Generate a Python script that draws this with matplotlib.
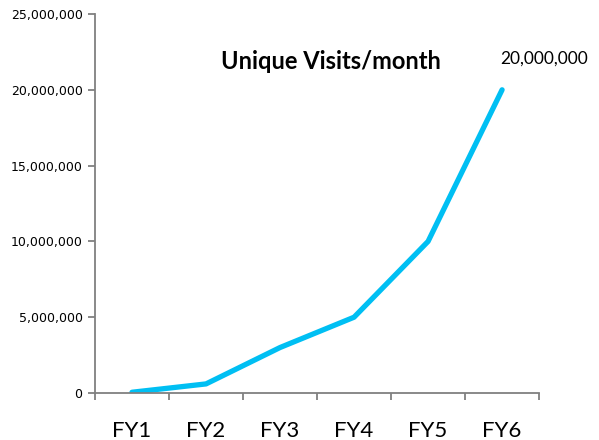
import matplotlib.pyplot as plt
from matplotlib.ticker import FuncFormatter

# Данные графика
years = ["FY1", "FY2", "FY3", "FY4", "FY5", "FY6"]
visits = [50000, 600000, 3000000, 5000000, 10000000, 20000000]

fig = plt.figure(figsize=(5.99, 4.40), dpi=100)
ax = fig.add_axes([0.1586, 0.1068, 0.7414, 0.8614])

x = list(range(len(years)))
ax.plot(x, visits, color="#00BFF3", linewidth=3.8, solid_capstyle="round")

# Подпись последней точки
ax.annotate(f"{visits[-1]:,}", (x[-1], visits[-1]), xytext=(-1, 17),
            textcoords="offset points", ha="left", va="bottom",
            fontsize=12.5, family="Lato")

ax.text(0.532, 0.875, "Unique Visits/month", transform=ax.transAxes,
        ha="center", va="center", fontsize=17, fontweight="bold", family="Lato")

# Оси
ax.set_xlim(-0.5, len(years) - 0.5)
ax.set_ylim(0, 25000000)
ax.set_yticks(range(0, 25000001, 5000000))
ax.yaxis.set_major_formatter(FuncFormatter(lambda v, p: f"{int(v):,}"))
ax.set_xticks(x)
ax.set_xticklabels(years, fontsize=16, family="Lato")
ax.set_xticks([i - 0.5 for i in range(len(years) + 1)], minor=True)
ax.tick_params(axis="x", which="major", length=0, pad=20)
ax.tick_params(axis="x", which="minor", length=5, width=1.3, color="#808080")
ax.tick_params(axis="y", length=5, width=1.3, color="#808080", labelsize=9, pad=4)

for s in ["top", "right"]:
    ax.spines[s].set_visible(False)
for s in ["left", "bottom"]:
    ax.spines[s].set_color("#808080")
    ax.spines[s].set_linewidth(1.3)

fig.savefig("out.png", dpi=100)
